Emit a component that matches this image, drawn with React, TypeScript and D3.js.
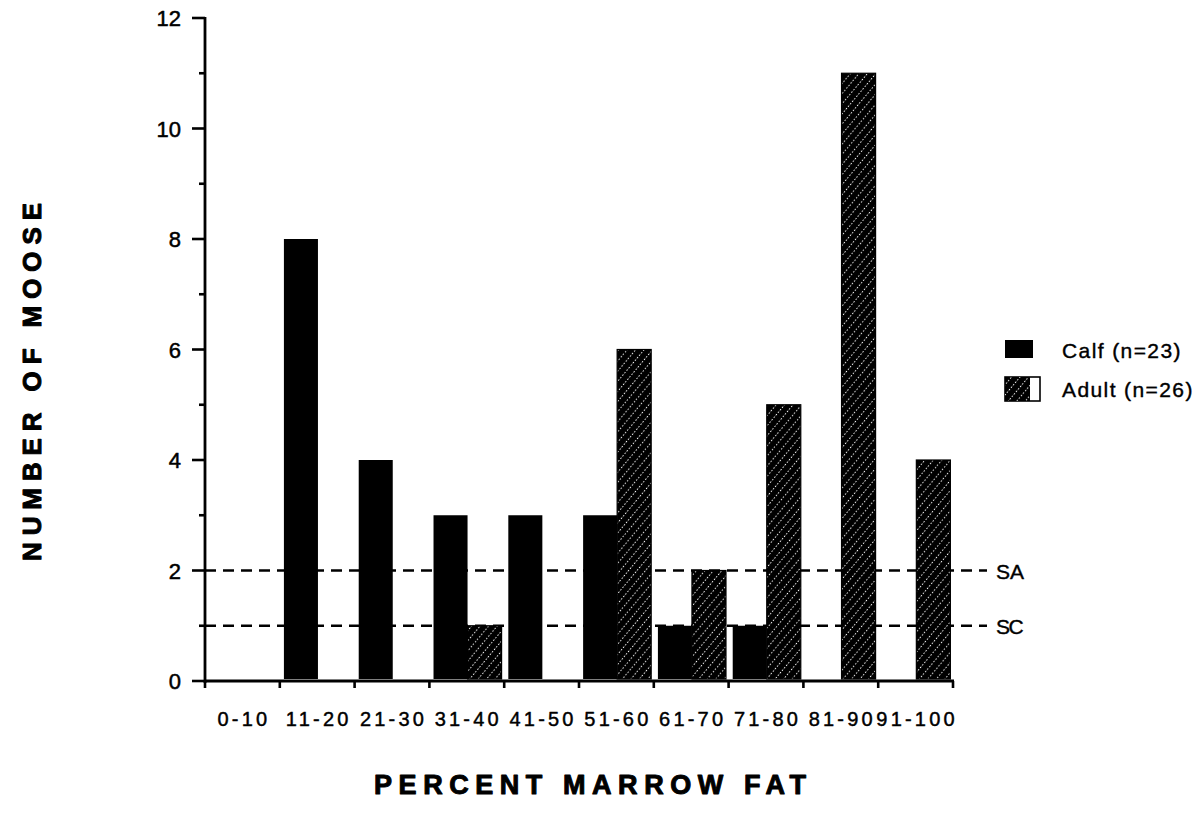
import React from "react";
import * as d3 from "d3";

// Marrow-fat classes and counts per age group
const categories = ["0-10", "11-20", "21-30", "31-40", "41-50", "51-60", "61-70", "71-80", "81-90", "91-100"];
const calfCounts = [0, 8, 4, 3, 3, 3, 1, 1, 0, 0];
const adultCounts = [0, 0, 0, 1, 0, 6, 2, 5, 11, 4];
const yTicks = [0, 2, 4, 6, 8, 10, 12];
const yMinorTicks = [1, 3, 5, 7, 9, 11];
const referenceLines = [
  { label: "SA", value: 2 },
  { label: "SC", value: 1 },
];
const legendItems = [
  { label: "Calf (n=23)", key: "calf" },
  { label: "Adult (n=26)", key: "adult" },
];

const W = 1202;
const H = 813;
const FONT = "'Liberation Sans', Arial, Helvetica, sans-serif";

export default function App() {
  const x = d3.scaleBand<string>().domain(categories).range([205, 953]).paddingInner(0).paddingOuter(0);
  const y = d3.scaleLinear().domain([0, 12]).range([681, 18]);
  const bw = x.bandwidth();
  const barW = bw * 0.455;
  const leftPad = bw * 0.055;

  const rows = categories.map((c, i) => ({ c, calf: calfCounts[i], adult: adultCounts[i] }));

  // slightly heavier glyphs for the printed look
  const ink = (w: number) => ({ stroke: "#000", strokeWidth: w, strokeLinejoin: "round" as const });

  return (
    <svg width={W} height={H} style={{ position: "absolute", left: 0, top: 0, background: "#fff" }} fontFamily={FONT}>
      <defs>
        <pattern id="hatch" patternUnits="userSpaceOnUse" width="6.5" height="6.5" patternTransform="rotate(40)">
          <rect width="6.5" height="6.5" fill="#000" />
          <line x1="3.25" y1="0" x2="3.25" y2="6.5" stroke="#fff" strokeWidth="1" strokeDasharray="1.3 1.95" />
        </pattern>
      </defs>
      <rect width={W} height={H} fill="#fff" />

      {/* reference lines */}
      {referenceLines.map((r) => (
        <g key={r.label}>
          <line x1={205} x2={987} y1={y(r.value)} y2={y(r.value)} stroke="#000" strokeWidth={2.6} strokeDasharray="11 7" />
          <text x={996} y={y(r.value) + 8} fontSize={21} letterSpacing={r.label === "SC" ? -1.5 : 0} {...ink(0.4)}>
            {r.label}
          </text>
        </g>
      ))}

      {/* bars */}
      {rows.map((r) => {
        const x0 = (x(r.c) as number) + leftPad;
        return (
          <g key={r.c}>
            {r.calf > 0 && (
              <rect x={x0} y={y(r.calf)} width={barW} height={y(0) - y(r.calf) - 2} fill="#000" />
            )}
            {r.adult > 0 && (
              <rect
                x={x0 + barW}
                y={y(r.adult)}
                width={barW}
                height={y(0) - y(r.adult) - 2}
                fill="url(#hatch)"
                stroke="#000"
                strokeWidth={1.2}
              />
            )}
          </g>
        );
      })}

      {/* y axis */}
      <line x1={205} x2={205} y1={y(12) - 1} y2={y(0) + 2} stroke="#000" strokeWidth={2.8} />
      {yTicks.map((t) => (
        <g key={t}>
          <line x1={192} x2={205} y1={y(t)} y2={y(t)} stroke="#000" strokeWidth={2.6} />
          <text x={181} y={y(t) + 8} fontSize={22} textAnchor="end" {...ink(0.5)}>
            {t}
          </text>
        </g>
      ))}
      {yMinorTicks.map((t) => (
        <line key={t} x1={199} x2={205} y1={y(t)} y2={y(t)} stroke="#000" strokeWidth={2.6} />
      ))}

      {/* x axis */}
      <line x1={204} x2={954} y1={y(0)} y2={y(0)} stroke="#000" strokeWidth={2.8} />
      {[...categories.map((c) => x(c) as number), 953].map((v, i) => (
        <line key={i} x1={v} x2={v} y1={y(0)} y2={y(0) + 7} stroke="#000" strokeWidth={2.6} />
      ))}
      {categories.map((c) => (
        <text
          key={c}
          x={(x(c) as number) + bw / 2 + 1.5}
          y={726}
          fontSize={20}
          letterSpacing={3.2}
          textAnchor="middle"
          {...ink(0.45)}
        >
          {c}
        </text>
      ))}

      {/* axis titles */}
      <text
        x={590}
        y={794}
        fontSize={27}
        fontWeight="bold"
        textAnchor="middle"
        textLength={432}
        lengthAdjust="spacing"
        {...ink(1)}
      >
        PERCENT MARROW FAT
      </text>
      <text
        transform="translate(41,382) rotate(-90)"
        fontSize={26}
        fontWeight="bold"
        textAnchor="middle"
        textLength={358}
        lengthAdjust="spacing"
        {...ink(1)}
      >
        NUMBER OF MOOSE
      </text>

      {/* legend */}
      <rect x={1005} y={340} width={28} height={18} fill="#000" />
      <g>
        <rect x={1005} y={377} width={35} height={24} fill="#fff" stroke="#000" strokeWidth={1.6} />
        <rect x={1005} y={377} width={25} height={24} fill="url(#hatch)" />
      </g>
      {legendItems.map((d, i) => (
        <text key={d.key} x={1062} y={358 + i * 39} fontSize={21} letterSpacing={1.4} {...ink(0.4)}>
          {d.label}
        </text>
      ))}
    </svg>
  );
}
